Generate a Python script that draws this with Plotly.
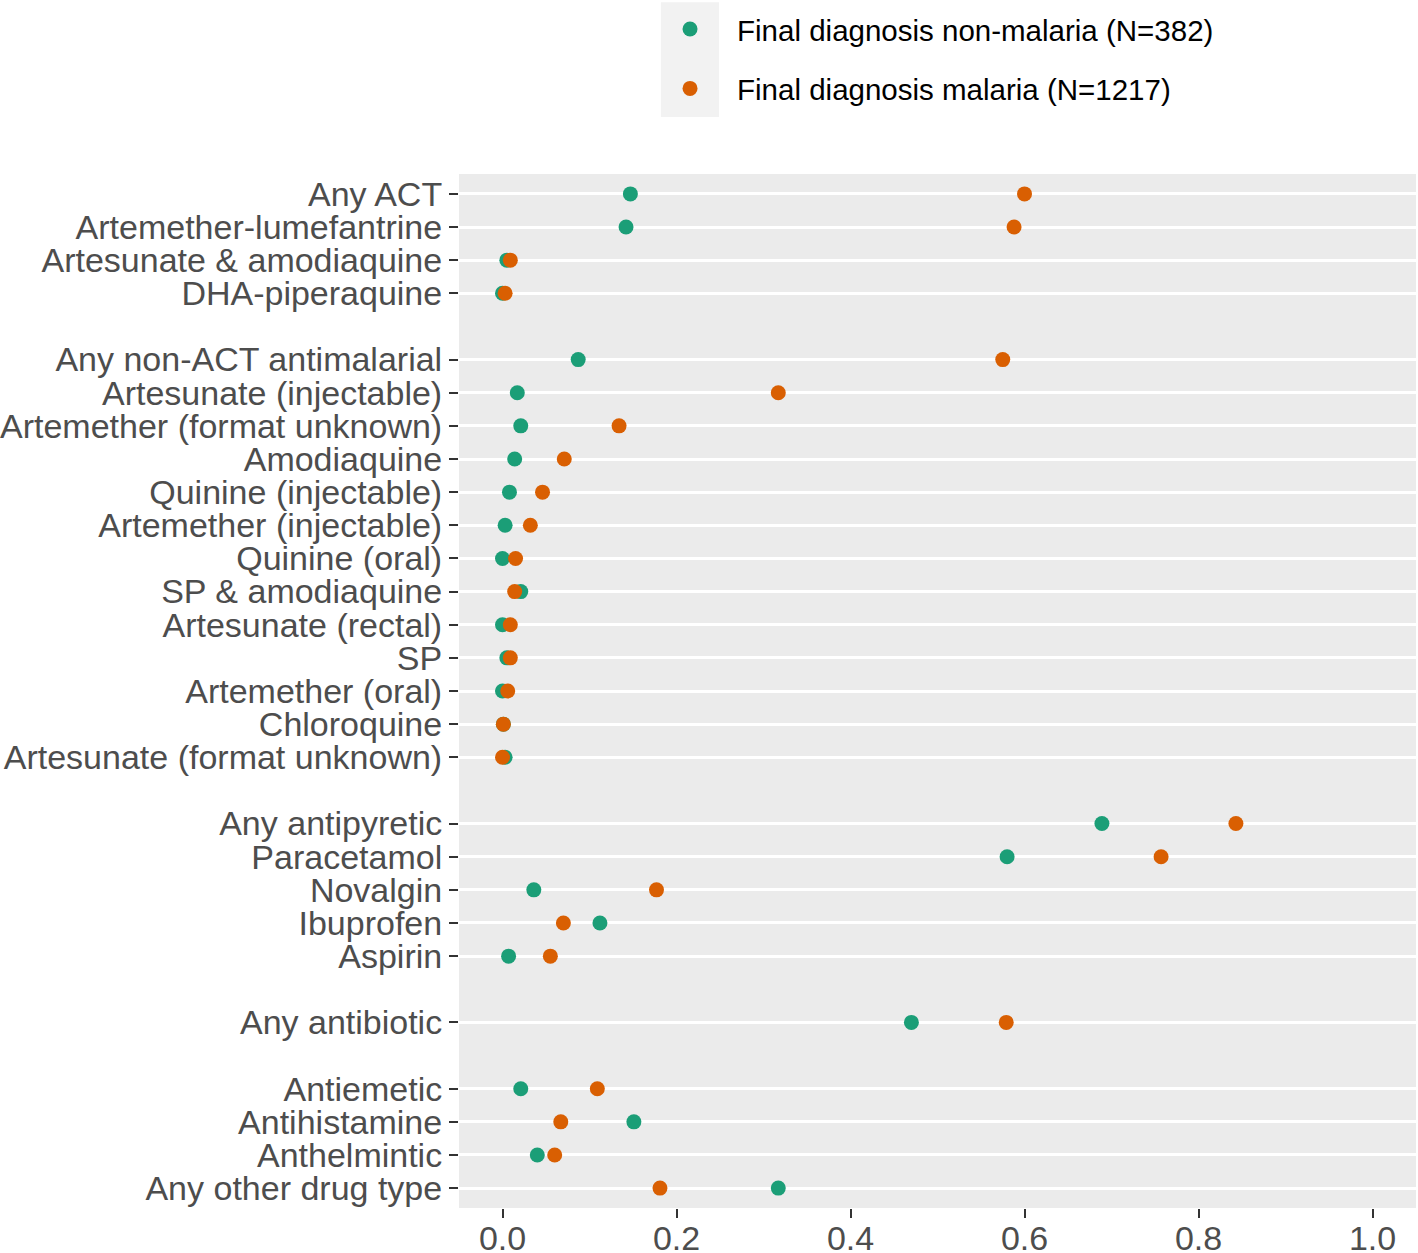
import plotly.graph_objects as go

# Drug categories, grouped (a blank row separates groups)
groups = [
    ["Any ACT", "Artemether-lumefantrine", "Artesunate & amodiaquine", "DHA-piperaquine"],
    ["Any non-ACT antimalarial", "Artesunate (injectable)", "Artemether (format unknown)",
     "Amodiaquine", "Quinine (injectable)", "Artemether (injectable)", "Quinine (oral)",
     "SP & amodiaquine", "Artesunate (rectal)", "SP", "Artemether (oral)", "Chloroquine",
     "Artesunate (format unknown)"],
    ["Any antipyretic", "Paracetamol", "Novalgin", "Ibuprofen", "Aspirin"],
    ["Any antibiotic"],
    ["Antiemetic", "Antihistamine", "Anthelmintic", "Any other drug type"],
]

non_malaria = [
    0.147, 0.142, 0.005, 0.000,
    0.087, 0.017, 0.021, 0.014, 0.008, 0.003, 0.000, 0.021, 0.000, 0.005, 0.000, 0.001, 0.003,
    0.689, 0.580, 0.036, 0.112, 0.007,
    0.470,
    0.021, 0.151, 0.040, 0.317,
]
malaria = [
    0.600, 0.588, 0.009, 0.003,
    0.575, 0.317, 0.134, 0.071, 0.046, 0.032, 0.015, 0.014, 0.009, 0.009, 0.006, 0.001, 0.000,
    0.843, 0.757, 0.177, 0.070, 0.055,
    0.579,
    0.109, 0.067, 0.060, 0.181,
]

series_names = ["Final diagnosis non-malaria (N=382)", "Final diagnosis malaria (N=1217)"]
series_colors = ["#1B9E77", "#D95F02"]

x_ticks = [0.0, 0.2, 0.4, 0.6, 0.8, 1.0]
x_ticklabels = ["0.0", "0.2", "0.4", "0.6", "0.8", "1.0"]

# row index for each category, with one empty row between groups
labels, rows = [], []
r = 0
for gi, g in enumerate(groups):
    if gi > 0:
        r += 1
    for c in g:
        labels.append(c)
        rows.append(r)
        r += 1
n_rows = r

FONT = "Liberation Sans, Arial, sans-serif"

fig = go.Figure()
for name, vals, col in zip(series_names, [non_malaria, malaria], series_colors):
    fig.add_trace(go.Scatter(
        x=vals, y=rows, mode="markers", name=name, legendgroup=name,
        marker=dict(color=col, size=15, line=dict(width=0)),
        hovertext=labels,
    ))

fig.update_layout(
    width=1418, height=1253,
    margin=dict(l=459, r=2, t=174, b=45, autoexpand=False),
    paper_bgcolor="white",
    plot_bgcolor="#EBEBEB",
    font=dict(family=FONT, color="#4D4D4D", size=34),
    showlegend=True,
    legend=dict(
        x=0.1923, y=1.165, xanchor="left", yanchor="top",
        font=dict(family=FONT, size=29.5, color="black"),
        bgcolor="rgba(0,0,0,0)",
        tracegroupgap=18,
        itemsizing="trace",
        itemwidth=84,
    ),
    shapes=[dict(
        type="rect", xref="paper", yref="paper",
        x0=0.211, x1=0.2717, y0=1.0551, y1=1.166,
        fillcolor="#F2F2F2", line=dict(width=0), layer="below",
    )],
)

fig.update_xaxes(
    range=[-0.05, 1.05], tickvals=x_ticks, ticktext=x_ticklabels,
    showgrid=False, zeroline=False, showline=False,
    ticks="outside", ticklen=9, tickwidth=2, tickcolor="#333333",
    tickfont=dict(size=34, color="#4D4D4D", family=FONT),
    ticklabelstandoff=-9,
    automargin=False,
)
fig.update_yaxes(
    range=[n_rows - 1 + 0.6, -0.6], tickvals=rows, ticktext=labels,
    showgrid=True, gridcolor="white", gridwidth=2.5,
    zeroline=False, showline=False,
    ticks="outside", ticklen=9, tickwidth=2, tickcolor="#333333",
    tickfont=dict(size=34, color="#4D4D4D", family=FONT),
    automargin=False,
)

fig.write_html(
    "out.html",
    config={"displayModeBar": False},
    post_script="document.body.style.margin='0';document.body.style.overflow='hidden';",
)
